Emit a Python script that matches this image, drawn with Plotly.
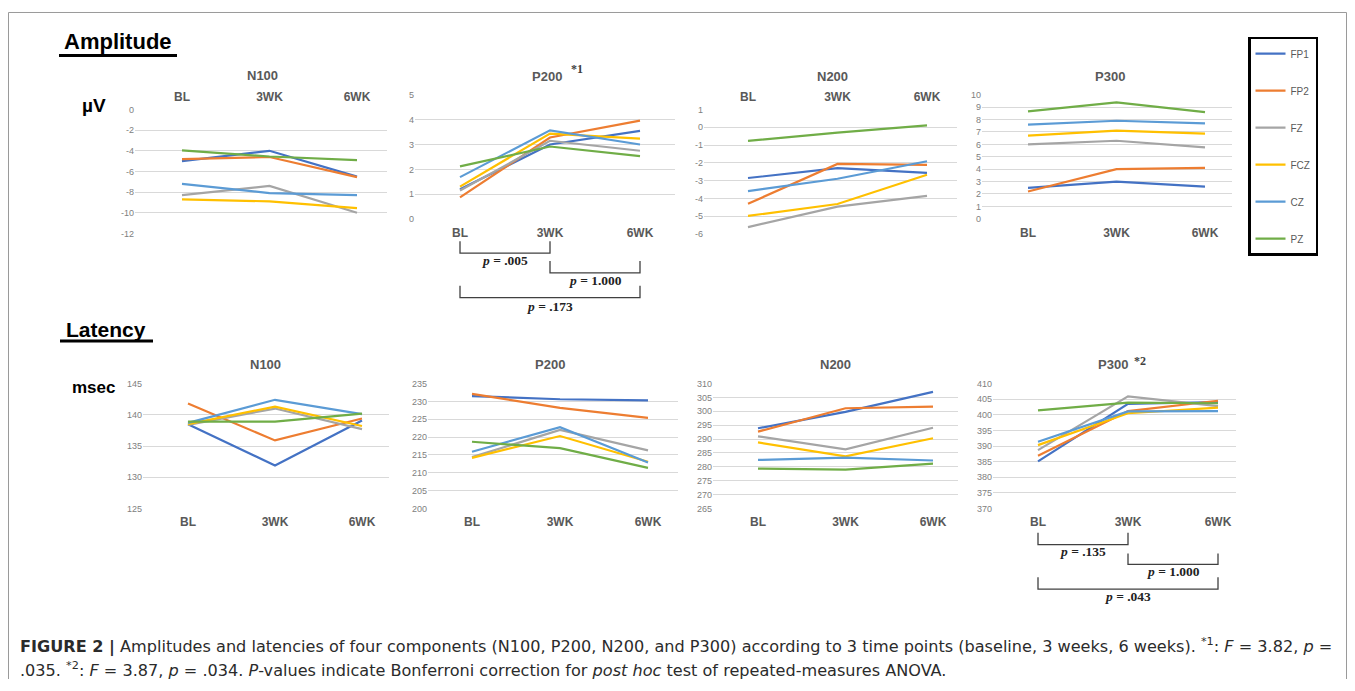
import plotly.graph_objects as go

# page is 1355x691; the html body has an 8px margin, so the figure is sized to fit inside it
PAGE_W, PAGE_H = 1355, 691
OFF = 8
W, H = PAGE_W - 2 * OFF, PAGE_H - 2 * OFF

# ---------------- data ----------------
channels = ["FP1", "FP2", "FZ", "FCZ", "CZ", "PZ"]
timepoints = ["BL", "3WK", "6WK"]

# Amplitude (µV), rows follow `channels`, columns follow `timepoints`
amp_n100 = [[-5.0, -4.0, -6.5], [-4.8, -4.6, -6.55], [-8.3, -7.4, -10.0],
            [-8.7, -8.9, -9.55], [-7.2, -8.1, -8.3], [-3.95, -4.55, -4.9]]
amp_p200 = [[1.2, 3.0, 3.55], [0.88, 3.28, 3.96], [1.15, 3.15, 2.75],
            [1.31, 3.44, 3.24], [1.69, 3.57, 3.0], [2.12, 2.92, 2.53]]
amp_n200 = [[-2.85, -2.3, -2.56], [-4.3, -2.06, -2.11], [-5.61, -4.46, -3.85],
            [-4.98, -4.31, -2.67], [-3.59, -2.89, -1.91], [-0.76, -0.3, 0.11]]
amp_p300 = [[2.49, 3.0, 2.6], [2.2, 4.0, 4.11], [6.0, 6.29, 5.76],
            [6.71, 7.1, 6.87], [7.59, 7.9, 7.69], [8.65, 9.39, 8.59]]

# Latency (msec)
lat_n100 = [[138.5, 131.9, 139.1], [141.8, 135.9, 139.4], [138.4, 141.0, 137.7],
            [138.5, 141.3, 138.2], [138.7, 142.4, 140.1], [138.9, 138.9, 140.2]]
lat_p200 = [[231.5, 230.6, 230.3], [232.1, 228.2, 225.4], [214.4, 222.0, 216.3],
            [214.2, 220.3, 213.1], [215.9, 222.8, 212.9], [218.7, 216.9, 211.4]]
lat_n200 = [[293.9, 299.8, 307.0], [292.7, 301.1, 301.7], [291.0, 286.3, 294.1],
            [288.8, 283.8, 290.3], [282.5, 283.3, 282.3], [279.4, 279.0, 281.2]]
lat_p300 = [[385.1, 403.5, 404.1], [386.9, 401.2, 404.5], [388.7, 405.9, 402.8],
            [390.3, 400.5, 402.3], [391.4, 401.1, 401.2], [401.4, 403.9, 403.7]]

# post hoc comparisons (index pairs into timepoints) and p-values
comparisons = [(0, 1), (1, 2), (0, 2)]
p200_amp_pvalues = [".005", "1.000", ".173"]
p300_lat_pvalues = [".135", "1.000", ".043"]

# ---------------- styling ----------------
colors = ["#4472C4", "#ED7D31", "#A5A5A5", "#FFC000", "#5B9BD5", "#70AD47"]
FONT = "Liberation Sans"
GREY_TXT = "#595959"


def px_x(p):
    """page pixel x -> paper fraction"""
    return (p - OFF) / W


def px_y(p):
    """page pixel y -> paper fraction"""
    return 1 - (p - OFF) / H


# panel layout (page pixel geometry)
panels = [
    dict(data=amp_n100, title="N100", tx=262, ty=72, x0=135, x1=387, p0=182, p2=357,
         ytop=106.7, ybot=232.0, yr=(-12, 0), dtick=2, side="top"),
    dict(data=amp_p200, title="P200", tx=547, ty=73, x0=415, x1=675, p0=460, p2=640,
         ytop=91.7, ybot=217.7, yr=(0, 5), dtick=1, side="bottom", star="*1", sx=569, sy=66),
    dict(data=amp_n200, title="N200", tx=832, ty=73, x0=704, x1=957, p0=748, p2=927,
         ytop=106.7, ybot=232.7, yr=(-6, 1), dtick=1, side="top"),
    dict(data=amp_p300, title="P300", tx=1110, ty=73, x0=982, x1=1232, p0=1028, p2=1205,
         ytop=91.7, ybot=217.3, yr=(0, 10), dtick=1, side="bottom"),
    dict(data=lat_n100, title="N100", tx=265, ty=365, x0=143, x1=389, p0=188, p2=362,
         ytop=384.0, ybot=510.5, yr=(125, 145), dtick=5, side="bottom"),
    dict(data=lat_p200, title="P200", tx=550, ty=365, x0=428, x1=678, p0=472, p2=648,
         ytop=384.0, ybot=510.5, yr=(200, 235), dtick=5, side="bottom"),
    dict(data=lat_n200, title="N200", tx=835, ty=365, x0=713, x1=958, p0=758, p2=933,
         ytop=384.0, ybot=510.5, yr=(265, 310), dtick=5, side="bottom"),
    dict(data=lat_p300, title="P300", tx=1113, ty=365, x0=993, x1=1236, p0=1038, p2=1218,
         ytop=384.0, ybot=510.5, yr=(370, 410), dtick=5, side="bottom", star="*2", sx=1132, sy=361),
]

fig = go.Figure()
layout = dict(
    width=W, height=H, margin=dict(l=0, r=0, t=0, b=0),
    paper_bgcolor="white", plot_bgcolor="rgba(0,0,0,0)",
    font=dict(family=FONT, color=GREY_TXT),
    legend=dict(x=px_x(1248), y=px_y(33), xanchor="left", yanchor="top",
                bordercolor="black", borderwidth=2.5, bgcolor="white",
                font=dict(family=FONT, size=10, color=GREY_TXT),
                tracegroupgap=18, itemwidth=30),
    shapes=[], annotations=[],
)

for i, pn in enumerate(panels):
    k = i + 1
    xname = "x" if k == 1 else f"x{k}"
    yname = "y" if k == 1 else f"y{k}"
    for c, (ch, col) in enumerate(zip(channels, colors)):
        fig.add_trace(go.Scatter(
            x=list(range(len(timepoints))), y=pn["data"][c], mode="lines",
            line=dict(color=col, width=2.2), name=ch, legendgroup=ch,
            showlegend=(k == 1), xaxis=xname, yaxis=yname, hoverinfo="skip"))
    u = (pn["p2"] - pn["p0"]) / 2
    xr = [(pn["x0"] - pn["p0"]) / u, (pn["x1"] - pn["p0"]) / u]
    lo, hi = pn["yr"]
    pad = (hi - lo) * 0.006
    ppu = (pn["ybot"] - pn["ytop"]) / (hi - lo)
    padpx = pad * ppu
    yticks = list(range(lo, hi + 1, pn["dtick"]))
    layout["xaxis" + ("" if k == 1 else str(k))] = dict(
        domain=[px_x(pn["x0"]), px_x(pn["x1"])], range=xr, anchor=yname,
        tickmode="array", tickvals=list(range(len(timepoints))), ticktext=timepoints,
        side=pn["side"], showgrid=False, zeroline=False, showline=False, ticks="",
        ticklabelstandoff=4,
        tickfont=dict(family=FONT, size=12, color=GREY_TXT, weight="bold"))
    layout["yaxis" + ("" if k == 1 else str(k))] = dict(
        domain=[px_y(pn["ybot"] + padpx), px_y(pn["ytop"] - padpx)],
        range=[lo - pad, hi + pad], anchor=xname,
        tickmode="array", tickvals=yticks, ticktext=[str(v) for v in yticks],
        showgrid=True, gridcolor="#d9d9d9", gridwidth=1, zeroline=False,
        showline=False, ticks="",
        tickfont=dict(family=FONT, size=9, color="#808080"))
    layout["annotations"].append(dict(
        text=pn["title"], x=px_x(pn["tx"]), y=px_y(pn["ty"]), xref="paper", yref="paper",
        showarrow=False, xanchor="center", yanchor="middle",
        font=dict(family=FONT, size=13, color=GREY_TXT, weight="bold")))
    if "star" in pn:
        layout["annotations"].append(dict(
            text=pn["star"], x=px_x(pn["sx"]), y=px_y(pn["sy"]), xref="paper", yref="paper",
            showarrow=False, xanchor="left", yanchor="middle",
            font=dict(family="Liberation Serif", size=12, color="#404040", weight="bold")))

# significance brackets
bracket_sets = [
    ("x2", p200_amp_pvalues, [(240, 252, 259), (260, 272, 280), (285, 297, 306)]),
    ("x8", p300_lat_pvalues, [(535, 547, 554), (556, 567, 574), (580, 592, 600)]),
]
for xref, pvals, geo in bracket_sets:
    for (a, b), pv, (ytop, ybot, ylab) in zip(comparisons, pvals, geo):
        path = (f"M {a},{px_y(ytop)} L {a},{px_y(ybot)} "
                f"L {b},{px_y(ybot)} L {b},{px_y(ytop)}")
        layout["shapes"].append(dict(type="path", path=path, xref=xref, yref="paper",
                                     line=dict(color="#404040", width=1.3)))
        layout["annotations"].append(dict(
            text=f"<i>p</i> = {pv}", x=(a + b) / 2, y=px_y(ylab), xref=xref, yref="paper",
            showarrow=False, xanchor="center", yanchor="middle",
            font=dict(family="Liberation Serif", size=13.5, color="#222222", weight="bold")))

# section headings and units
for txt, x, y, size in [("Amplitude", 62, 38, 22), ("Latency", 64, 329, 21)]:
    layout["annotations"].append(dict(
        text=txt, x=px_x(x), y=px_y(y), xref="paper", yref="paper", showarrow=False,
        xanchor="left", yanchor="middle",
        font=dict(family=FONT, size=size, color="black", weight="bold")))
layout["shapes"].append(dict(type="line", x0=px_x(59), x1=px_x(177), y0=px_y(52), y1=px_y(52),
                             xref="paper", yref="paper", line=dict(color="black", width=3)))
layout["shapes"].append(dict(type="line", x0=px_x(60), x1=px_x(153), y0=px_y(341), y1=px_y(341),
                             xref="paper", yref="paper", line=dict(color="black", width=3)))
for txt, x, y, size in [("µV", 80, 103, 19), ("msec", 70, 388, 17)]:
    layout["annotations"].append(dict(
        text=txt, x=px_x(x), y=px_y(y), xref="paper", yref="paper", showarrow=False,
        xanchor="left", yanchor="middle",
        font=dict(family=FONT, size=size, color="black", weight="bold")))

# caption
cap1 = ("<b>FIGURE 2 |</b> Amplitudes and latencies of four components (N100, P200, N200, and P300) "
        "according to 3 time points (baseline, 3 weeks, 6 weeks). <sup>*1</sup>: <i>F</i> = 3.82, <i>p</i> =")
cap2 = (".035. <sup>*2</sup>: <i>F</i> = 3.87, <i>p</i> = .034. <i>P</i>-values indicate Bonferroni "
        "correction for <i>post hoc</i> test of repeated-measures ANOVA.")
for txt, y in [(cap1, 650), (cap2, 673)]:
    layout["annotations"].append(dict(
        text=txt, x=px_x(18), y=px_y(y), xref="paper", yref="paper", showarrow=False,
        xanchor="left", yanchor="middle",
        font=dict(family="DejaVu Sans", size=16.1, color="#2b2b2b")))

# outer frame (left, top, right edges; the bottom edge lies below the view)
frame = dict(xref="paper", yref="paper", line=dict(color="#9a9a9a", width=1))
layout["shapes"].append(dict(type="line", x0=px_x(8.5), x1=px_x(8.5), y0=0, y1=px_y(8.5), **frame))
layout["shapes"].append(dict(type="line", x0=px_x(8.5), x1=px_x(1346.5), y0=px_y(8.5), y1=px_y(8.5), **frame))
layout["shapes"].append(dict(type="line", x0=px_x(1346.5), x1=px_x(1346.5), y0=0, y1=px_y(8.5), **frame))

fig.update_layout(**layout)
fig.write_html("out.html")
